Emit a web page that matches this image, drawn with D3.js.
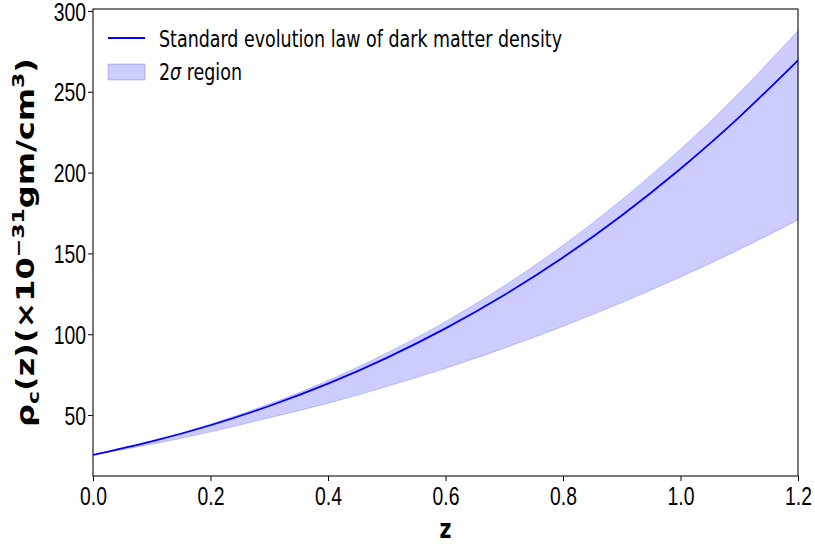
<!DOCTYPE html>
<html>
<head>
<meta charset="utf-8">
<script src="https://cdn.jsdelivr.net/npm/d3@7"></script>
<style>
  body { margin: 0; background: #fff; }
  svg { display: block; font-family: "DejaVu Sans", sans-serif; }
</style>
</head>
<body>
<script>
// redshift samples
var zVals = [0.0, 0.1, 0.2, 0.3, 0.4, 0.5, 0.6, 0.7, 0.8, 0.9, 1.0, 1.1, 1.2];
// standard evolution law of dark matter density
var rhoStd = [25.3, 33.7, 43.7, 55.6, 69.4, 85.4, 103.6, 124.3, 147.5, 173.5, 202.4, 234.3, 269.4];
// 2 sigma band edges
var rhoUpper = [25.3, 33.9, 44.4, 56.8, 71.4, 88.4, 107.8, 130.0, 155.0, 183.2, 214.5, 249.3, 287.8];
var rhoLower = [25.3, 31.9, 39.6, 48.3, 57.3, 67.6, 78.9, 91.4, 104.9, 119.6, 135.4, 152.4, 170.7];

var xTicks = [0.0, 0.2, 0.4, 0.6, 0.8, 1.0, 1.2];
var yTicks = [50, 100, 150, 200, 250, 300];
// legend entries, split so the sigma can be italic
var legendLabels = [['Standard evolution law of dark matter density'], ['2', '\u03c3', ' region']];

var W = 815, H = 544;
// plot box (note: "top" is a reserved window global, so use plot* names)
var plotL = 93, plotR = 798, plotT = 9, plotB = 476;
var squeeze = 0.76; // text in the reference is narrow

var svg = d3.select('body').append('svg')
  .attr('width', W)
  .attr('height', H);

var x = d3.scaleLinear().domain([0, 1.2]).range([plotL, plotR]);
var y = d3.scaleLinear().domain([12.3, 301.2]).range([plotB, plotT]);

var pts = zVals.map(function(z, i) {
  return {z: z, mid: rhoStd[i], hi: rhoUpper[i], lo: rhoLower[i]};
});

// shaded band
var area = d3.area()
  .x(function(d) { return x(d.z); })
  .y0(function(d) { return y(d.lo); })
  .y1(function(d) { return y(d.hi); })
  .curve(d3.curveNatural);

svg.append('path')
  .datum(pts)
  .attr('d', area)
  .attr('fill', 'rgba(0,0,255,0.2)')
  .attr('stroke', 'rgba(0,0,255,0.2)')
  .attr('stroke-width', 1);

// the standard curve
var line = d3.line()
  .x(function(d) { return x(d.z); })
  .y(function(d) { return y(d.mid); })
  .curve(d3.curveNatural);

svg.append('path')
  .datum(pts)
  .attr('d', line)
  .attr('fill', 'none')
  .attr('stroke', '#0000ff')
  .attr('stroke-width', 1.8);

// axes
var xAxis = svg.append('g')
  .attr('transform', 'translate(0,' + plotB + ')')
  .call(d3.axisBottom(x).tickValues(xTicks).tickSize(5).tickFormat(d3.format('.1f')));

var yAxis = svg.append('g')
  .attr('transform', 'translate(' + plotL + ',0)')
  .call(d3.axisLeft(y).tickValues(yTicks).tickSize(5).tickFormat(d3.format('d')));

[xAxis, yAxis].forEach(function(ax) {
  ax.select('.domain').remove();
  ax.selectAll('line').attr('stroke', '#000').attr('stroke-width', 1);
  ax.selectAll('text')
    .attr('fill', '#000')
    .style('font-size', '25.5px');
});

xAxis.selectAll('text')
  .attr('y', 29)
  .attr('dy', 0)
  .attr('transform', 'scale(' + squeeze + ',1)');

yAxis.selectAll('text')
  .attr('x', -7 / squeeze)
  .attr('dy', '0.36em')
  .attr('transform', 'scale(' + squeeze + ',1)');

// frame
svg.append('rect')
  .attr('x', plotL)
  .attr('y', plotT)
  .attr('width', plotR - plotL)
  .attr('height', plotB - plotT)
  .attr('fill', 'none')
  .attr('stroke', '#222')
  .attr('stroke-width', 1.2);

// legend
var lg = svg.append('g');
lg.append('line')
  .attr('x1', 108).attr('x2', 145)
  .attr('y1', 38).attr('y2', 38)
  .attr('stroke', '#0000ff')
  .attr('stroke-width', 1.8);
lg.append('rect')
  .attr('x', 108).attr('y', 64)
  .attr('width', 37).attr('height', 16)
  .attr('fill', 'rgba(0,0,255,0.2)')
  .attr('stroke', 'rgba(0,0,255,0.2)');

lg.selectAll('text.lab')
  .data(legendLabels)
  .enter().append('text')
  .attr('class', 'lab')
  .attr('transform', function(d, i) { return 'translate(159,' + (i ? 80 : 47) + ') scale(' + squeeze + ',1)'; })
  .style('font-size', '23px')
  .attr('fill', '#000')
  .selectAll('tspan')
  .data(function(d) { return d; })
  .enter().append('tspan')
  .style('font-style', function(s) { return s === '\u03c3' ? 'italic' : 'normal'; })
  .text(function(s) { return s; });

// x label
svg.append('text')
  .attr('transform', 'translate(' + ((plotL + plotR) / 2) + ',538) scale(' + squeeze + ',1)')
  .attr('text-anchor', 'middle')
  .style('font-size', '27px')
  .style('font-weight', 'bold')
  .text('z');

// y label
var yl = svg.append('text')
  .attr('transform', 'translate(34,' + ((plotT + plotB) / 2) + ') rotate(-90) scale(1,' + squeeze + ')')
  .attr('text-anchor', 'middle')
  .style('font-size', '32px')
  .style('font-weight', 'bold')
  .attr('fill', '#000');

yl.append('tspan').text('\u03c1');
yl.append('tspan').attr('dy', 6).style('font-size', '22px').text('c');
yl.append('tspan').attr('dy', -6).text('(z)(\u00d710');
yl.append('tspan').attr('dy', -13).style('font-size', '22px').text('\u221231');
yl.append('tspan').attr('dy', 13).text('gm/cm');
yl.append('tspan').attr('dy', -13).style('font-size', '22px').text('3');
yl.append('tspan').attr('dy', 13).text(')');
</script>
</body>
</html>
